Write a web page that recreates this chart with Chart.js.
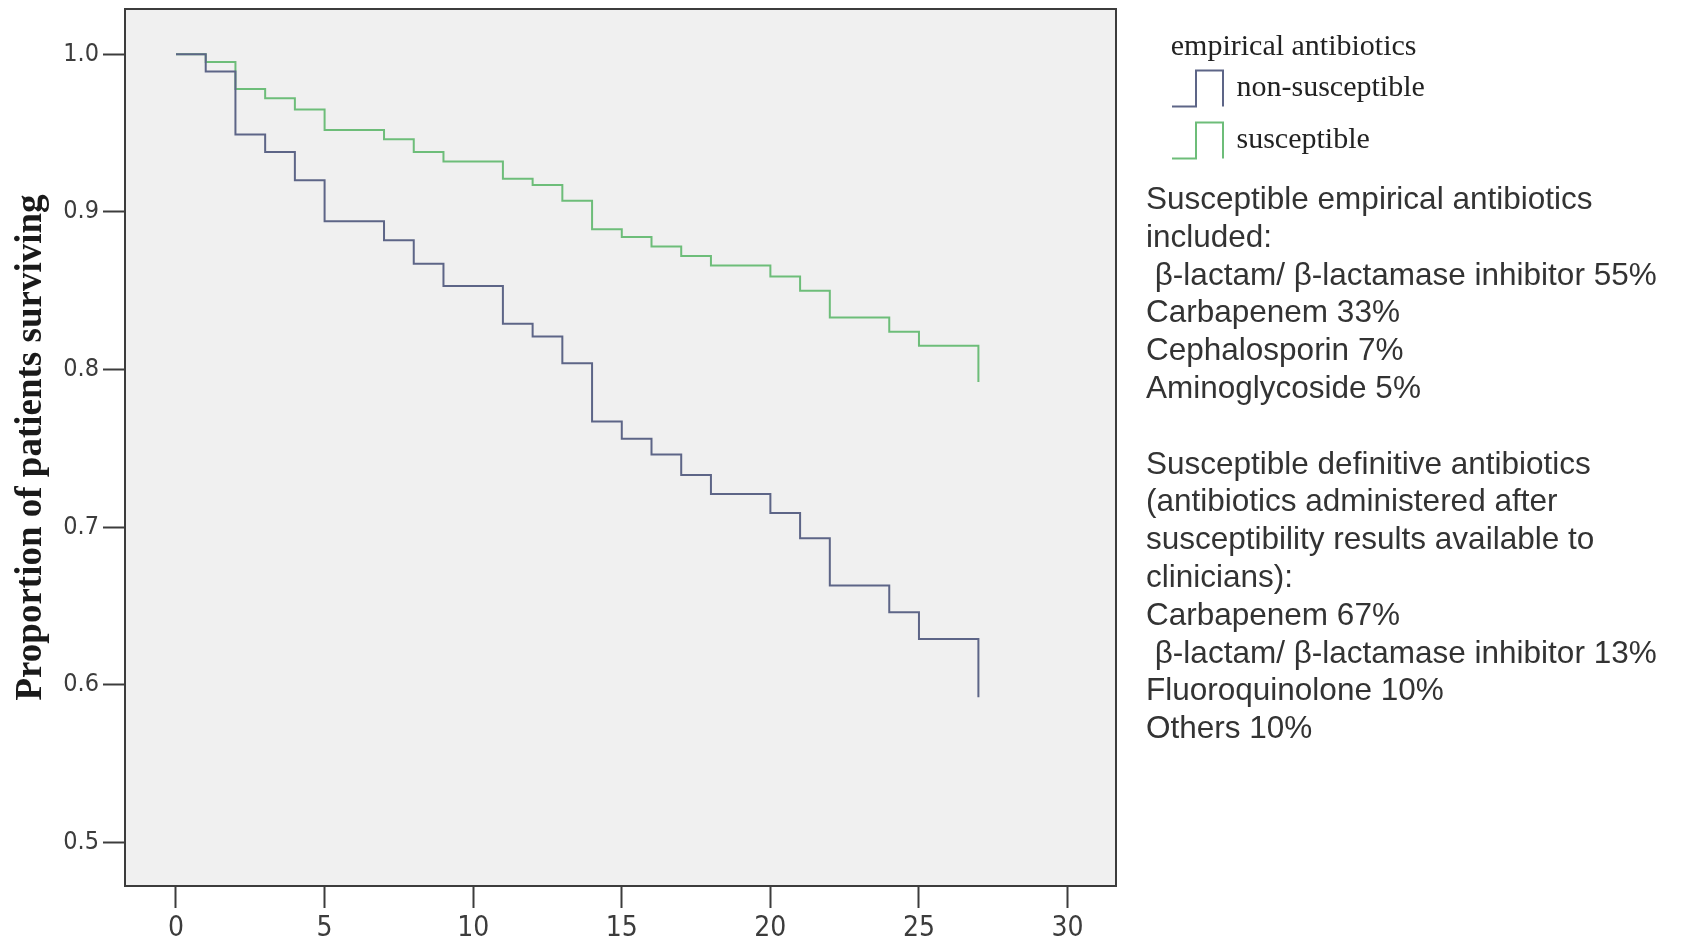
<!DOCTYPE html>
<html>
<head>
<meta charset="utf-8">
<script src="https://cdn.jsdelivr.net/npm/chart.js@4.4.1/dist/chart.umd.min.js"></script>
<style>
  html, body { margin: 0; padding: 0; background: #ffffff; width: 1688px; height: 941px; overflow: hidden; }
  #wrap { position: absolute; left: 0; top: 0; width: 1688px; height: 941px; }
  #notes { position: absolute; left: 1146px; top: 180px; margin: 0;
           font-family: 'Liberation Sans', Arial, sans-serif; font-size: 31.5px; line-height: 37.8px;
           color: #333333; white-space: pre; }
</style>
</head>
<body>
<div id="wrap"><canvas id="c" width="1688" height="941"></canvas></div>
<div id="notes"></div>
<script>
// ---- data ----
const days = [0, 1, 2, 3, 4, 5, 7, 8, 9, 11, 12, 13, 14, 15, 16, 17, 18, 20, 21, 22, 24, 25, 27];
const nonSusceptible = [1.000, 0.989, 0.949, 0.938, 0.920, 0.894, 0.882, 0.867, 0.853, 0.829, 0.821, 0.804, 0.767, 0.756, 0.746, 0.733, 0.721, 0.709, 0.693, 0.663, 0.646, 0.629, 0.592];
const susceptible    = [1.000, 0.995, 0.978, 0.972, 0.965, 0.952, 0.946, 0.938, 0.932, 0.921, 0.917, 0.907, 0.889, 0.884, 0.878, 0.872, 0.866, 0.859, 0.850, 0.833, 0.824, 0.815, 0.792];
const seriesNames = ['non-susceptible', 'susceptible'];
const xTicks = [0, 5, 10, 15, 20, 25, 30];
const yTicks = [0.5, 0.6, 0.7, 0.8, 0.9, 1.0];
const legendTitle = 'empirical antibiotics';
const yTitle = 'Proportion of patients surviving';
const noteLines = [
  'Susceptible empirical antibiotics',
  'included:',
  ' \u03B2-lactam/ \u03B2-lactamase inhibitor 55%',
  'Carbapenem 33%',
  'Cephalosporin 7%',
  'Aminoglycoside 5%',
  '',
  'Susceptible definitive antibiotics',
  '(antibiotics administered after',
  'susceptibility results available to',
  'clinicians):',
  'Carbapenem 67%',
  ' \u03B2-lactam/ \u03B2-lactamase inhibitor 13%',
  'Fluoroquinolone 10%',
  'Others 10%'
];

// ---- styling ----
const colNon = '#5d6587';
const colSus = '#6dbd79';
const axisCol = '#3c3c3c';
const tickFont = "'Liberation Sans Narrow', 'DejaVu Sans Condensed', 'Liberation Sans', sans-serif";
const serif = "'Liberation Serif', 'DejaVu Serif', serif";

document.getElementById('notes').textContent = noteLines.join('\n');

function stepIcon(color) {
  const c = document.createElement('canvas');
  c.width = 54; c.height = 40;
  const g = c.getContext('2d');
  g.strokeStyle = color; g.lineWidth = 2;
  g.beginPath();
  g.moveTo(1, 38); g.lineTo(25, 38); g.lineTo(25, 2); g.lineTo(52, 2); g.lineTo(52, 38);
  g.stroke();
  return c;
}

const pts = (vals) => days.map((d, i) => ({ x: d, y: vals[i] }));

// legend geometry
const legendFontSize = 30;
const legendPad = 22;
const legendBoxW = 47;
const mctx = document.createElement('canvas').getContext('2d');
mctx.font = legendFontSize + 'px ' + serif;
const maxLabelW = Math.max(...seriesNames.map(s => mctx.measureText(s).width));
const legendLeft = 1174.5 - legendPad;
const legendW = legendPad + legendBoxW + legendFontSize / 2 + maxLabelW + 10;
const padRight = 1688 - legendLeft - legendW;
const plotRight = 1116;

const plotFrame = {
  id: 'plotFrame',
  beforeDraw(chart) {
    const { ctx, chartArea: a } = chart;
    ctx.save();
    ctx.fillStyle = '#f0f0f0';
    ctx.fillRect(a.left, a.top, a.width, a.height);
    ctx.restore();
  },
  beforeDatasetsDraw(chart) {
    const { ctx, chartArea: a } = chart;
    ctx.save();
    ctx.strokeStyle = axisCol;
    ctx.lineWidth = 2;
    ctx.strokeRect(a.left, a.top, a.width, a.height);
    ctx.restore();
  }
};

new Chart(document.getElementById('c'), {
  type: 'line',
  data: {
    datasets: [
      { label: seriesNames[0], data: pts(nonSusceptible), borderColor: colNon, backgroundColor: colNon,
        borderWidth: 2, stepped: 'before', pointRadius: 0, pointHoverRadius: 0, pointStyle: stepIcon(colNon), fill: false },
      { label: seriesNames[1], data: pts(susceptible), borderColor: colSus, backgroundColor: colSus,
        borderWidth: 2, stepped: 'before', pointRadius: 0, pointHoverRadius: 0, pointStyle: stepIcon(colSus), fill: false }
    ]
  },
  options: {
    responsive: false,
    animation: false,
    devicePixelRatio: 1,
    layout: { padding: { left: 0, top: 9, right: padRight, bottom: 0 } },
    plugins: {
      tooltip: { enabled: false },
      legend: {
        position: 'right',
        align: 'start',
        maxWidth: 600,
        title: {
          display: true, text: legendTitle, position: 'center', color: '#222222',
          font: { family: serif, size: 30, lineHeight: 0.6 },
          padding: { top: 23, bottom: 1.5 }
        },
        labels: {
          usePointStyle: true, pointStyleWidth: legendBoxW, padding: legendPad, color: '#222222',
          font: { family: serif, size: legendFontSize }
        }
      }
    },
    scales: {
      x: {
        type: 'linear', min: -1.716, max: 31.63,
        afterBuildTicks: (s) => { s.ticks = xTicks.map(v => ({ value: v })); },
        afterFit: (s) => { s.height = 55; s.paddingLeft = 0; s.paddingRight = 0; },
        ticks: { autoSkip: false, maxRotation: 0, padding: 4, color: axisCol,
                 font: { family: tickFont, size: 28 }, callback: (v) => String(v) },
        grid: { drawOnChartArea: false, drawTicks: true, tickLength: 22, tickWidth: 2, tickColor: axisCol, color: axisCol },
        border: { display: true, color: axisCol, width: 2 }
      },
      y: {
        type: 'linear', min: 0.4723, max: 1.0287,
        afterBuildTicks: (s) => { s.ticks = yTicks.map(v => ({ value: v })); },
        afterFit: (s) => { s.width = 125; s.paddingTop = 0; s.paddingBottom = 0; },
        ticks: { autoSkip: false, padding: 4, color: axisCol,
                 font: { family: tickFont, size: 25 }, callback: (v) => Number(v).toFixed(1) },
        grid: { drawOnChartArea: false, drawTicks: true, tickLength: 22, tickWidth: 2, tickColor: axisCol, color: axisCol },
        border: { display: true, color: axisCol, width: 2 },
        title: { display: true, text: yTitle, color: '#1a1a1a',
                 font: { family: serif, size: 37, weight: 'bold' }, padding: { top: 9, bottom: 0 } }
      },
      yR: {
        type: 'linear', position: 'right', display: true, min: 0.4723, max: 1.0287,
        afterFit: (s) => { s.width = legendLeft - plotRight; s.paddingTop = 0; s.paddingBottom = 0; },
        ticks: { display: false },
        grid: { display: false, drawTicks: false },
        border: { display: false }
      }
    }
  },
  plugins: [plotFrame]
});
</script>
</body>
</html>
